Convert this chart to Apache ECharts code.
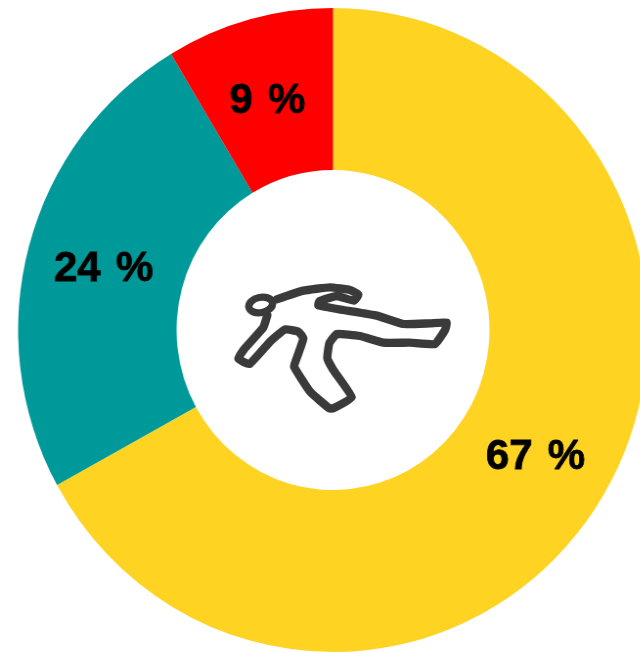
<!DOCTYPE html>
<html><head><meta charset="utf-8">
<style>html,body{margin:0;padding:0;background:#fff;overflow:hidden;width:640px;height:652px}#c{width:660px;height:652px;transform:scaleX(0.978);transform-origin:0 0}</style>
<script src="https://cdn.jsdelivr.net/npm/echarts@6/dist/echarts.min.js"></script>
</head><body><div id="c"></div>
<script>
const shares = [67, 24.4, 8.6];
const shareLabels = ['67\u200A %', '24\u200A %', '9\u200A %'];
const colors = ['#FFD322', '#009999', '#FF0000'];
const labelOffsets = [[-3, 3], [1, 3], [-2, 6]];
const figure = [[320,388],[400,362],[480,352],[540,360],[565,374],[552,392],[500,378],[448,394],[445,406],[520,420],[620,437],[700,462],[780,460],[830,458],[825,480],[795,522],[720,518],[640,518],[570,498],[500,492],[478,520],[472,565],[490,600],[545,682],[490,715],[478,715],[420,665],[372,590],[378,570],[400,505],[385,485],[345,478],[300,515],[238,582],[205,566],[222,538],[280,472],[292,435]];
const chart = echarts.init(document.getElementById('c'), null, {renderer:'canvas'});
const sx = 1 / 3;
chart.setOption({
  animation:false,
  backgroundColor:'#fff',
  series:[{
    type:'pie', center:[340.5,330], radius:[160,322], startAngle:90, clockwise:true,
    avoidLabelOverlap:false,
    data:shares.map((v,i)=>({value:v,itemStyle:{color:colors[i]},label:{formatter:shareLabels[i],offset:labelOffsets[i]}})),
    label:{show:true,position:'inside',color:'#000',fontFamily:'Liberation Sans',fontWeight:'bold',fontSize:43,textBorderColor:'#000',textBorderWidth:0.8},
    labelLine:{show:false},
    emphasis:{disabled:true}
  }],
  graphic:[{
    type:'group', x:170/0.978, y:170, scaleX:sx/0.978, scaleY:sx, silent:true,
    children:[
      {type:'polyline',shape:{points:figure,smooth:0.12},style:{fill:null,stroke:'#3a3a3a',lineWidth:25,lineJoin:'round',lineCap:'round'}},
      {type:'ellipse',shape:{cx:272,cy:405,rx:36,ry:23},rotation:0.2,originX:272,originY:405,style:{fill:null,stroke:'#3a3a3a',lineWidth:22}}
    ]
  }]
});
</script></body></html>
